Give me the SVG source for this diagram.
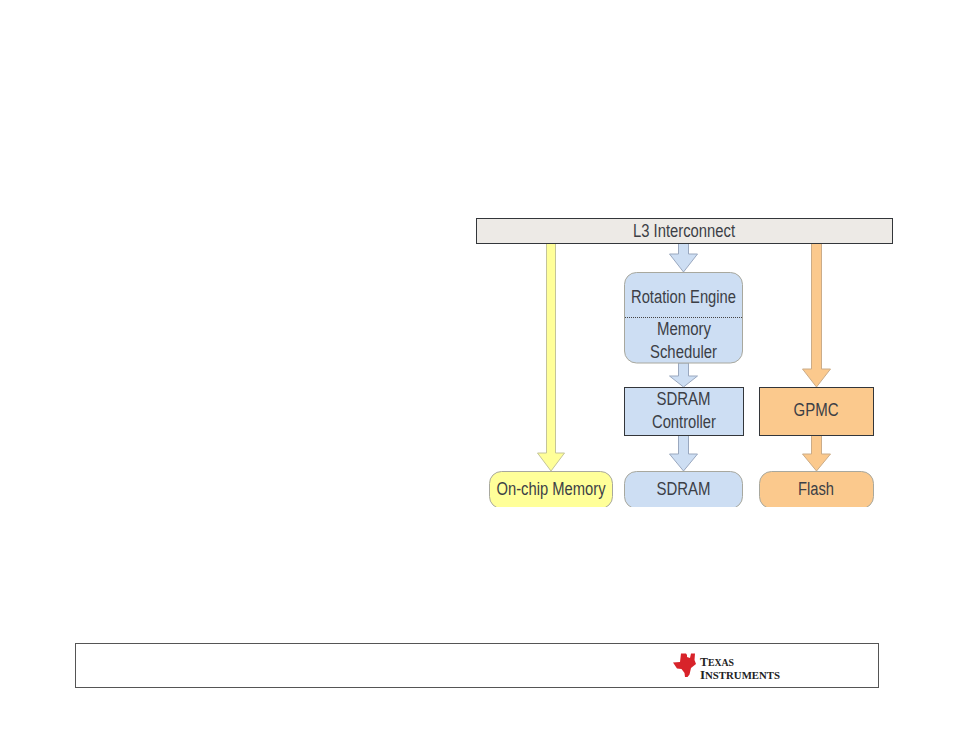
<svg xmlns="http://www.w3.org/2000/svg" width="954" height="737" viewBox="0 0 954 737">
<style>
.t{font-family:"Liberation Sans",Arial,sans-serif;font-size:18px;fill:#3c3f46;text-anchor:middle}
.sq{stroke:#33363a;stroke-width:1}
.rd{stroke:#a8a89e;stroke-width:1}
.b{fill:#cddef3}.y{fill:#ffff99}.o{fill:#fbc98d}
.ab{fill:#cddef3;stroke:#9aa8bf}.ay{fill:#ffff99;stroke:#c4c49a}.ao{fill:#fbc98d;stroke:#cbac88}
.ti{font-family:"Liberation Serif",serif;fill:#222;font-weight:bold}
</style>
<defs><clipPath id="c"><rect x="480" y="465" width="400" height="42"/></clipPath></defs>
<rect width="954" height="737" fill="#fff"/>
<g id="connectors">
<path class="ay" d="M546.500 243V453H537.500L551 471L564.500 453H555.500V243Z"/>
<path class="ab" d="M678.500 243V254H669.500L683.500 272L697.500 254H688.500V243Z"/>
<path class="ab" d="M678.500 363V376H669.500L683.500 387L697.500 376H688.500V363Z"/>
<path class="ab" d="M678.500 435V454H669.500L683.500 471L697.500 454H688.500V435Z"/>
<path class="ao" d="M811.500 243V369H802.500L816.500 387L830.500 369H821.500V243Z"/>
<path class="ao" d="M811.500 435V454H802.500L816.500 471L830.500 454H821.500V435Z"/>
</g>
<g id="l3"><rect class="sq" x="476.500" y="218.500" width="416" height="25" fill="#edeae6"/><text class="t" x="684" y="236.500" textLength="102" lengthAdjust="spacingAndGlyphs">L3 Interconnect</text></g>
<g id="rotation-scheduler"><rect class="rd b" x="624.500" y="272.500" width="118" height="90.500" rx="12"/><line x1="625" y1="317.500" x2="742" y2="317.500" stroke="#444" stroke-width="1" stroke-dasharray="1 1"/><text class="t" x="683.500" y="303" textLength="105" lengthAdjust="spacingAndGlyphs">Rotation Engine</text><text class="t" x="684" y="335" textLength="54" lengthAdjust="spacingAndGlyphs">Memory</text><text class="t" x="683.500" y="358" textLength="67" lengthAdjust="spacingAndGlyphs">Scheduler</text></g>
<g id="sdram-controller"><rect class="sq b" x="624.500" y="387.500" width="119" height="48"/><text class="t" x="683.500" y="405" textLength="54" lengthAdjust="spacingAndGlyphs">SDRAM</text><text class="t" x="684" y="428" textLength="64" lengthAdjust="spacingAndGlyphs">Controller</text></g>
<g id="gpmc"><rect class="sq o" x="759.500" y="387.500" width="114" height="48"/><text class="t" x="816" y="416" textLength="45" lengthAdjust="spacingAndGlyphs">GPMC</text></g>
<g id="on-chip-memory"><rect class="rd y" x="489.500" y="471.500" width="123" height="37" rx="12" clip-path="url(#c)"/><text class="t" x="551" y="494.500" textLength="109" lengthAdjust="spacingAndGlyphs">On-chip Memory</text></g>
<g id="sdram"><rect class="rd b" x="624.500" y="471.500" width="118" height="37" rx="12" clip-path="url(#c)"/><text class="t" x="683.500" y="494.500" textLength="54" lengthAdjust="spacingAndGlyphs">SDRAM</text></g>
<g id="flash"><rect class="rd o" x="759.500" y="471.500" width="114" height="37" rx="12" clip-path="url(#c)"/><text class="t" x="816" y="494.500" textLength="36" lengthAdjust="spacingAndGlyphs">Flash</text></g>
<g id="footer"><rect x="75.500" y="643.500" width="803" height="44" fill="#fff" stroke="#555" stroke-width="1"/>
<path d="M681 653.500H686L687 655V657L690 658L691 653.500H695L694.500 660L696 664L691 668L689.500 674.500L687.500 677H685L684.500 673L681.500 669L677 668.500L673 662.500L680 662Z" fill="#d8232a"/>
<text class="ti" x="700" y="665.500" font-size="11.500" textLength="34" lengthAdjust="spacingAndGlyphs">T<tspan font-size="9.500">EXAS</tspan></text>
<text class="ti" x="700" y="678.500" font-size="11.500" textLength="80" lengthAdjust="spacingAndGlyphs">I<tspan font-size="9.500">NSTRUMENTS</tspan></text></g>
</svg>
